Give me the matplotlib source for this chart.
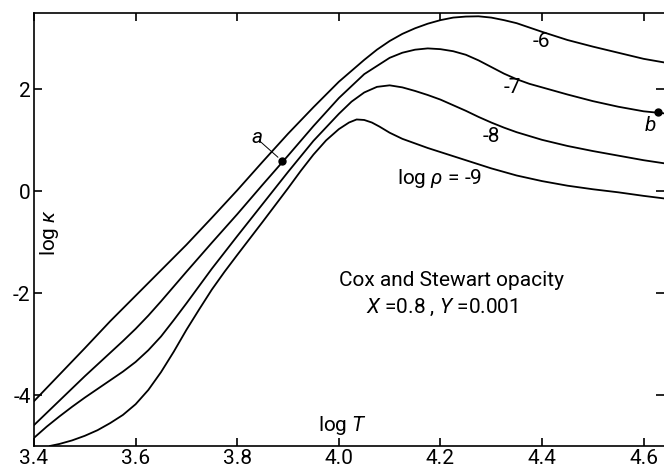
import matplotlib
matplotlib.use("Agg")
import matplotlib.pyplot as plt
from matplotlib.ticker import FixedLocator, FixedFormatter

plt.rcParams['font.family'] = ['Roboto', 'DejaVu Sans']
plt.rcParams['mathtext.fontset'] = 'custom'
plt.rcParams['mathtext.it'] = 'Roboto:italic'
plt.rcParams['mathtext.rm'] = 'Roboto'

# log rho = -6
t6 = [3.40, 3.45, 3.50, 3.55, 3.60, 3.65, 3.70, 3.75, 3.80, 3.85, 3.90, 3.95, 4.00,
      4.05, 4.075, 4.10, 4.125, 4.15, 4.175, 4.20, 4.225, 4.25, 4.275, 4.30, 4.325,
      4.35, 4.40, 4.45, 4.50, 4.55, 4.60, 4.64]
k6 = [-4.12, -3.60, -3.08, -2.55, -2.05, -1.55, -1.05, -0.52, 0.02, 0.58, 1.13, 1.65, 2.15,
      2.58, 2.78, 2.95, 3.09, 3.20, 3.29, 3.36, 3.41, 3.43, 3.435, 3.41, 3.36,
      3.30, 3.13, 2.97, 2.84, 2.72, 2.60, 2.53]
# log rho = -7
t7 = [3.40, 3.45, 3.50, 3.525, 3.55, 3.575, 3.60, 3.625, 3.65, 3.675, 3.70, 3.75, 3.80,
      3.85, 3.90, 3.95, 4.00, 4.05, 4.10, 4.125, 4.15, 4.175, 4.20, 4.225, 4.25, 4.275,
      4.30, 4.325, 4.35, 4.375, 4.40, 4.45, 4.50, 4.55, 4.60, 4.64]
k7 = [-4.59, -4.11, -3.63, -3.40, -3.17, -2.94, -2.70, -2.44, -2.16, -1.87, -1.58, -1.01, -0.45,
      0.13, 0.70, 1.28, 1.83, 2.30, 2.62, 2.72, 2.78, 2.805, 2.79, 2.75, 2.68, 2.57,
      2.44, 2.31, 2.20, 2.11, 2.04, 1.90, 1.77, 1.66, 1.57, 1.53]
# log rho = -8
t8 = [3.40, 3.425, 3.45, 3.475, 3.50, 3.525, 3.55, 3.575, 3.60, 3.625, 3.65, 3.675,
      3.70, 3.725, 3.75, 3.80, 3.85, 3.90, 3.95, 4.00, 4.025, 4.05, 4.075, 4.10,
      4.125, 4.15, 4.175, 4.20, 4.225, 4.25, 4.275, 4.30, 4.325, 4.35, 4.40, 4.45,
      4.50, 4.55, 4.60, 4.64]
k8 = [-4.84, -4.62, -4.42, -4.23, -4.05, -3.88, -3.71, -3.54, -3.35, -3.12, -2.85, -2.53,
      -2.20, -1.86, -1.52, -0.88, -0.25, 0.38, 0.99, 1.52, 1.76, 1.94, 2.05, 2.08,
      2.04, 1.97, 1.89, 1.80, 1.69, 1.58, 1.46, 1.35, 1.25, 1.16, 1.01, 0.89,
      0.79, 0.70, 0.61, 0.55]
# log rho = -9
t9 = [3.431, 3.45, 3.475, 3.50, 3.525, 3.55, 3.575, 3.60, 3.625, 3.65, 3.675, 3.70,
      3.725, 3.75, 3.775, 3.80, 3.85, 3.90, 3.925, 3.95, 3.975, 4.00, 4.02, 4.035,
      4.05, 4.065, 4.08, 4.10, 4.125, 4.15, 4.175, 4.20, 4.25, 4.30, 4.35, 4.40,
      4.45, 4.50, 4.55, 4.60, 4.64]
k9 = [-5.00, -4.96, -4.89, -4.80, -4.69, -4.55, -4.39, -4.18, -3.90, -3.55, -3.15, -2.72,
      -2.32, -1.93, -1.58, -1.25, -0.60, 0.06, 0.40, 0.72, 1.00, 1.22, 1.35, 1.41,
      1.40, 1.35, 1.27, 1.15, 1.03, 0.94, 0.85, 0.77, 0.61, 0.45, 0.31, 0.20,
      0.11, 0.04, -0.02, -0.09, -0.14]

curves = [(t6, k6), (t7, k7), (t8, k8), (t9, k9)]
point_a = (3.888, 0.59)
point_b = (4.628, 1.55)

xticks = [3.4, 3.6, 3.8, 4.0, 4.2, 4.4, 4.6]
xticklabels = ["3.4", "3.6", "3.8", "4.0", "4.2", "4.4", "4.6"]
yticks = [-4, -2, 0, 2]
yticklabels = ["-4", "-2", "0", "2"]

W, H = 664, 468
fig = plt.figure(figsize=(W / 100, H / 100), dpi=100)
left, right, top, bottom = 34, 664, 13, 446
ax = fig.add_axes([left / W, (H - bottom) / H, (right - left) / W, (bottom - top) / H])
ax.set_xlim(3.4, 4.64)
ax.set_ylim(-5.0, 3.5)

for t, k in curves:
    ax.plot(t, k, color='black', lw=1.3, solid_capstyle='round', solid_joinstyle='round')

ax.plot(*point_a, 'o', color='black', ms=5)
ax.plot(*point_b, 'o', color='black', ms=5)
ax.plot([3.845, 3.880], [0.98, 0.67], color='black', lw=0.7)

fs = 15
ax.text(3.839, 1.06, "a", style='italic', fontsize=fs, ha='center', va='center')
ax.text(4.613, 1.30, "b", style='italic', fontsize=fs, ha='center', va='center')

ax.text(4.398, 2.95, "-6", fontsize=fs, ha='center', va='center')
ax.text(4.341, 2.03, "-7", fontsize=fs, ha='center', va='center')
ax.text(4.30, 1.08, "-8", fontsize=fs, ha='center', va='center')
ax.text(4.199, 0.26, r"log $\rho$ = -9", fontsize=fs, ha='center', va='center')

ax.text(4.221, -1.75, "Cox and Stewart opacity", fontsize=fs, ha='center', va='center')
ax.text(4.203, -2.28, r"$X$ =0.8 , $Y$ =0.001", fontsize=fs, ha='center', va='center')

ax.text(4.008, -4.60, r"log $T$", fontsize=fs, ha='center', va='center')
ax.text(3.43, -0.81, r"log $\kappa$", fontsize=fs, ha='center', va='center', rotation=90)

ax.xaxis.set_major_locator(FixedLocator(xticks))
ax.xaxis.set_major_formatter(FixedFormatter(xticklabels))
ax.yaxis.set_major_locator(FixedLocator(yticks))
ax.yaxis.set_major_formatter(FixedFormatter(yticklabels))
ax.tick_params(direction='in', length=6, width=1.2, labelsize=15, top=True, right=True, pad=2.5)
for side in ['left', 'top', 'bottom']:
    ax.spines[side].set_linewidth(1.2)
ax.spines['right'].set_visible(False)

fig.savefig("out.png", dpi=100)
